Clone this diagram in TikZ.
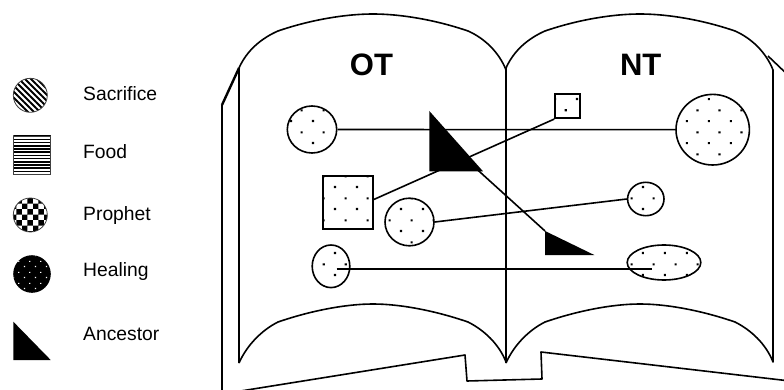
\documentclass[tikz,border=0pt]{standalone}
\usepackage{fontspec}
\setmainfont{Liberation Sans}
\usetikzlibrary{shapes.geometric,patterns}

% fill patterns for the shapes and the key
\pgfdeclarepatternformonly{bookdots}{\pgfpointorigin}{\pgfqpoint{22pt}{22pt}}{\pgfqpoint{22pt}{22pt}}{%
  \pgfpathrectangle{\pgfqpoint{4pt}{4pt}}{\pgfqpoint{2.2pt}{2.2pt}}%
  \pgfpathrectangle{\pgfqpoint{15pt}{15pt}}{\pgfqpoint{2.2pt}{2.2pt}}%
  \pgfusepath{fill}}
\pgfdeclarepatternformonly{healdots}{\pgfpointorigin}{\pgfqpoint{11pt}{11pt}}{\pgfqpoint{11pt}{11pt}}{%
  \pgfpathrectangle{\pgfqpoint{2pt}{2pt}}{\pgfqpoint{1.3pt}{1.3pt}}%
  \pgfpathrectangle{\pgfqpoint{7.5pt}{7.5pt}}{\pgfqpoint{1.3pt}{1.3pt}}%
  \pgfusepath{fill}}
\pgfdeclarepatternformonly{hatch}{\pgfqpoint{-1pt}{-1pt}}{\pgfqpoint{7pt}{7pt}}{\pgfqpoint{6pt}{6pt}}{%
  \pgfsetlinewidth{1.8pt}%
  \pgfpathmoveto{\pgfqpoint{0pt}{6pt}}\pgfpathlineto{\pgfqpoint{6.1pt}{-0.1pt}}%
  \pgfusepath{stroke}}
\pgfdeclarepatternformonly{hlines}{\pgfqpoint{-1pt}{0pt}}{\pgfqpoint{4pt}{3.2pt}}{\pgfqpoint{3pt}{3.2pt}}{%
  \pgfsetlinewidth{1.5pt}%
  \pgfpathmoveto{\pgfqpoint{-1pt}{1pt}}\pgfpathlineto{\pgfqpoint{4pt}{1pt}}%
  \pgfusepath{stroke}}
\pgfdeclarepatternformonly{checks}{\pgfpointorigin}{\pgfqpoint{11.4pt}{11.4pt}}{\pgfqpoint{11.4pt}{11.4pt}}{%
  \pgfpathrectangle{\pgfpointorigin}{\pgfqpoint{5.7pt}{5.7pt}}%
  \pgfpathrectangle{\pgfqpoint{5.7pt}{5.7pt}}{\pgfqpoint{5.7pt}{5.7pt}}%
  \pgfusepath{fill}}

\begin{document}
\begin{tikzpicture}[x=1pt, y=-1pt,
    spot/.style={ellipse, draw, line width=1.6pt, inner sep=0pt, pattern=bookdots},
    card/.style={rectangle, draw, line width=1.6pt, inner sep=0pt, pattern=bookdots},
    icon/.style={draw=black!75, line width=0.8pt, inner sep=0pt},
    link/.style={line width=1.6pt},
    keytext/.style={anchor=base west, inner sep=0pt, font=\fontsize{19.3}{20}\selectfont},
    testament/.style={font=\bfseries\fontsize{31}{31}\selectfont},
    page/.style={line width=1.6pt, line join=round}]
  \useasboundingbox (0,0) rectangle (784,390);
  \clip (0,0) rectangle (784,390);

  % key
  \node[icon, circle, minimum size=34, pattern=hatch] (sacrifice) at (30.3,95.3) {};
  \node[keytext] (sacrificetext) at (83,100.7) {Sacrifice};
  \node[icon, rectangle, minimum width=37.4, minimum height=38, pattern=hlines] (food) at (32,155) {};
  \node[keytext] (foodtext) at (83,158.3) {Food};
  \node[icon, circle, minimum size=34, pattern=checks] (prophet) at (30.3,215) {};
  \node[keytext] (prophettext) at (83,220) {Prophet};
  \node[circle, fill=black, inner sep=0pt, minimum size=37.6,
    postaction={pattern=healdots, pattern color=white}] (healing) at (32,274) {};
  \node[keytext] (healingtext) at (83,276.7) {Healing};
  \fill (13.3,321.7) -- (13.3,360) -- (50.7,360) -- cycle;
  \node[keytext] (ancestortext) at (83,340) {Ancestor};

  % the open book
  \foreach \dx in {0,267}{
    \draw[page, xshift=\dx] (239,363) -- (239,68)
      .. controls (247,50) and (262,38) .. (278,31)
      .. controls (310,20) and (345,14) .. (373,14)
      .. controls (401,14) and (436,20) .. (468,31)
      .. controls (484,38) and (499,52) .. (506,70)
      -- (506,362)
      .. controls (499,344) and (484,330) .. (468,322)
      .. controls (436,311) and (401,304) .. (373,304)
      .. controls (345,304) and (310,311) .. (278,322)
      .. controls (262,330) and (247,345) .. (239,363);
  }
  \draw[page] (222,105) -- (222,394) -- (465,355) -- (467,381) -- (542,379)
    -- (541,352) -- (790,381) -- (790,77) -- (768,56);
  \draw[page, line width=2.4pt] (239,68) -- (222,105);

  \node[testament] (ot) at (371.5,64.5) {OT};
  \node[testament] (nt) at (640.7,64.5) {NT};

  % events
  \node[spot, minimum width=49.4, minimum height=47] (otTop) at (312,129.5) {};
  \node[spot, minimum width=73.4, minimum height=70.6] (ntBig) at (712.7,129.7) {};
  \node[card, minimum width=50, minimum height=53] (otBox) at (348,202.5) {};
  \node[card, minimum width=25, minimum height=24] (ntSmall) at (567.5,106.3) {};
  \node[spot, minimum width=49, minimum height=47.6] (otMid) at (409.5,222) {};
  \node[spot, minimum width=36.4, minimum height=33.4] (ntMid) at (645.8,199) {};
  \node[spot, minimum width=37.6, minimum height=42.6] (otLow) at (331,266.3) {};
  \node[spot, minimum width=73.6, minimum height=35] (ntLow) at (664,262.5) {};

  \coordinate (anc1in) at (470,163);
  \coordinate (anc2top) at (545,231);

  \draw[link] (otTop.east) -- (ntBig.west);
  \draw[link] ([yshift=3pt]otBox.east) -- (ntSmall.south west);
  \draw[link] (otMid.east) -- (ntMid.west);
  \draw[link] ([xshift=5.7pt,yshift=-2.7pt]otLow.center) -- ([xshift=-11.7pt,yshift=-6.5pt]ntLow.center);
  \draw[link] (anc1in) -- (anc2top);

  % ancestors
  \fill (429.3,111) -- (429.3,171.3) -- (483,171.3) -- cycle;
  \fill (anc2top) -- (545,255) -- (594.3,255) -- cycle;
\end{tikzpicture}
\end{document}
